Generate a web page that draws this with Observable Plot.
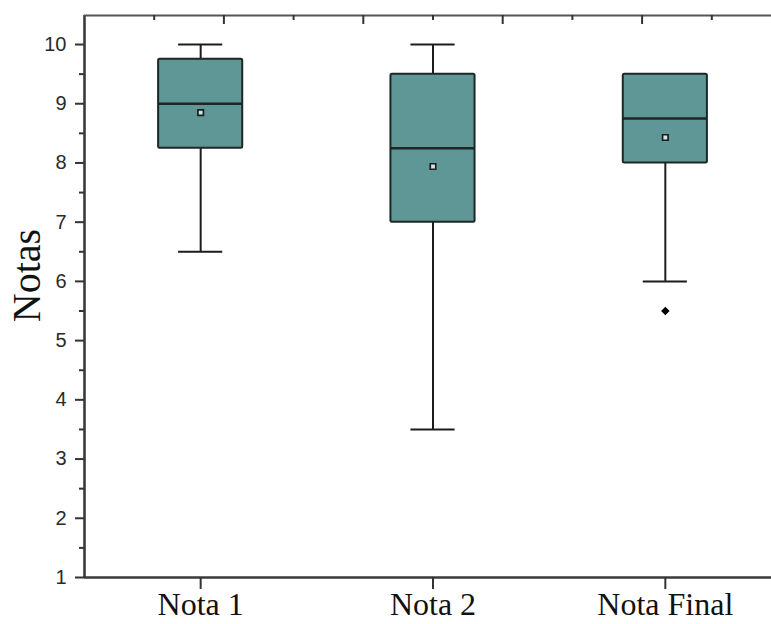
<!DOCTYPE html>
<html>
<head>
<meta charset="utf-8">
<script src="https://cdn.jsdelivr.net/npm/d3@7"></script>
<script src="https://cdn.jsdelivr.net/npm/@observablehq/plot@0.6"></script>
<style>
  html, body { margin: 0; padding: 0; background: #fff; overflow: hidden; }
  #chart svg { display: block; font-family: "Liberation Sans", Arial, sans-serif; }
</style>
</head>
<body>
<div id="chart"></div>
<script>
// ---- data ----
const categories  = ["Nota 1", "Nota 2", "Nota Final"];
const whiskerLow  = [6.5, 3.5, 6.0];
const q1          = [8.25, 7.0, 8.0];
const medians     = [9.0, 8.25, 8.75];
const q3          = [9.75, 9.5, 9.5];
const whiskerHigh = [10, 10, 9.5];
const means       = [8.85, 7.94, 8.43];
const outlierCategory = ["Nota Final"];
const outlierValue    = [5.5];
const yTicks      = [1, 2, 3, 4, 5, 6, 7, 8, 9, 10];
const yMinorTicks = [1.5, 2.5, 3.5, 4.5, 5.5, 6.5, 7.5, 8.5, 9.5];
// stray top-frame ticks (category-position units)
const topTicksLong  = [1.1, 1.7, 2.3, 2.9];
const topTicksShort = [0.8, 1.4, 2.0, 2.6, 3.2];
const yLabel = "Notas";

// ---- build table ----
const boxes = categories.map((c, i) => ({
  pos: i + 1, cat: c,
  lo: whiskerLow[i], q1: q1[i], med: medians[i], q3: q3[i], hi: whiskerHigh[i], mean: means[i]
}));
const upper = boxes.filter(d => d.hi > d.q3);
const outliers = outlierCategory.map((c, i) => ({pos: categories.indexOf(c) + 1, value: outlierValue[i]}));

const yMin = 1, yMax = 10.49;
const boxHalf = 0.181, capHalf = 0.095;
const pxPerUnit = (577 - 15) / (yMax - yMin);
const ink = "#1c1c1c";
const fill = "#5f9797";
const serif = "Liberation Serif, Times New Roman, serif";

const chart = Plot.plot({
  width: 771,
  height: 624,
  marginLeft: 84,
  marginRight: 0,
  marginTop: 15,
  marginBottom: 47,
  x: {type: "linear", domain: [0.5, 3.5], range: [84, 781], axis: null},
  y: {domain: [yMin, yMax], axis: null},
  marks: [
    // whiskers
    Plot.ruleX(boxes, {x: "pos", y1: "lo", y2: "q1", stroke: ink, strokeWidth: 2}),
    Plot.ruleX(upper, {x: "pos", y1: "q3", y2: "hi", stroke: ink, strokeWidth: 2}),
    // caps
    Plot.ruleY(boxes, {y: "lo", x1: d => d.pos - capHalf, x2: d => d.pos + capHalf, stroke: ink, strokeWidth: 2}),
    Plot.ruleY(upper, {y: "hi", x1: d => d.pos - capHalf, x2: d => d.pos + capHalf, stroke: ink, strokeWidth: 2}),
    // boxes
    Plot.rect(boxes, {x1: d => d.pos - boxHalf, x2: d => d.pos + boxHalf, y1: "q1", y2: "q3",
      fill: fill, stroke: "#1e2626", strokeWidth: 2, rx: 1.5}),
    // medians
    Plot.ruleY(boxes, {y: "med", x1: d => d.pos - boxHalf, x2: d => d.pos + boxHalf, stroke: "#1e2626", strokeWidth: 2.5}),
    // means
    Plot.dot(boxes, {x: "pos", y: "mean", symbol: "square", r: 3.1, fill: "#d3e6e6", stroke: ink, strokeWidth: 1.7}),
    // outliers
    Plot.dot(outliers, {x: "pos", y: "value", symbol: "square", rotate: 45, r: 3.4, fill: "#000"}),
    // frame lines (left, bottom, top)
    Plot.ruleX([0.5], {y1: yMin, y2: yMax, stroke: "#3a3a3a", strokeWidth: 2.6}),
    Plot.ruleY([yMin], {x1: 0.5, x2: 3.5, stroke: "#3a3a3a", strokeWidth: 2.6}),
    Plot.ruleY([yMax], {x1: 0.5, x2: 3.5, stroke: "#555", strokeWidth: 2}),
    // top frame ticks
    Plot.ruleX(topTicksLong, {x: d => d, y1: yMax, y2: yMax - 9 / pxPerUnit, stroke: "#333", strokeWidth: 2}),
    Plot.ruleX(topTicksShort, {x: d => d, y1: yMax, y2: yMax - 5 / pxPerUnit, stroke: "#333", strokeWidth: 2}),
    // y axis
    Plot.axisY({anchor: "left", ticks: yMinorTicks, tickSize: 5, text: null, stroke: "#333", strokeWidth: 2, label: null}),
    Plot.axisY({anchor: "left", ticks: yTicks, tickSize: 9, tickPadding: 9, stroke: "#333", strokeWidth: 2,
      fontSize: 20, fill: "#2a2a2a", tickFormat: d => String(d), label: null}),
    // x axis
    Plot.axisX({anchor: "bottom", ticks: [1, 2, 3], tickSize: 12, tickPadding: 3, stroke: "#333", strokeWidth: 2,
      tickFormat: d => categories[d - 1], fontSize: 32, fill: "#111", fontFamily: serif, label: null}),
    // y label
    Plot.text([yLabel], {frameAnchor: "left", textAnchor: "middle", lineAnchor: "middle",
      dx: -57, dy: -21, rotate: -90, text: d => d,
      fontSize: 40, fill: "#111", fontFamily: serif})
  ]
});
document.getElementById("chart").appendChild(chart);
</script>
</body>
</html>
